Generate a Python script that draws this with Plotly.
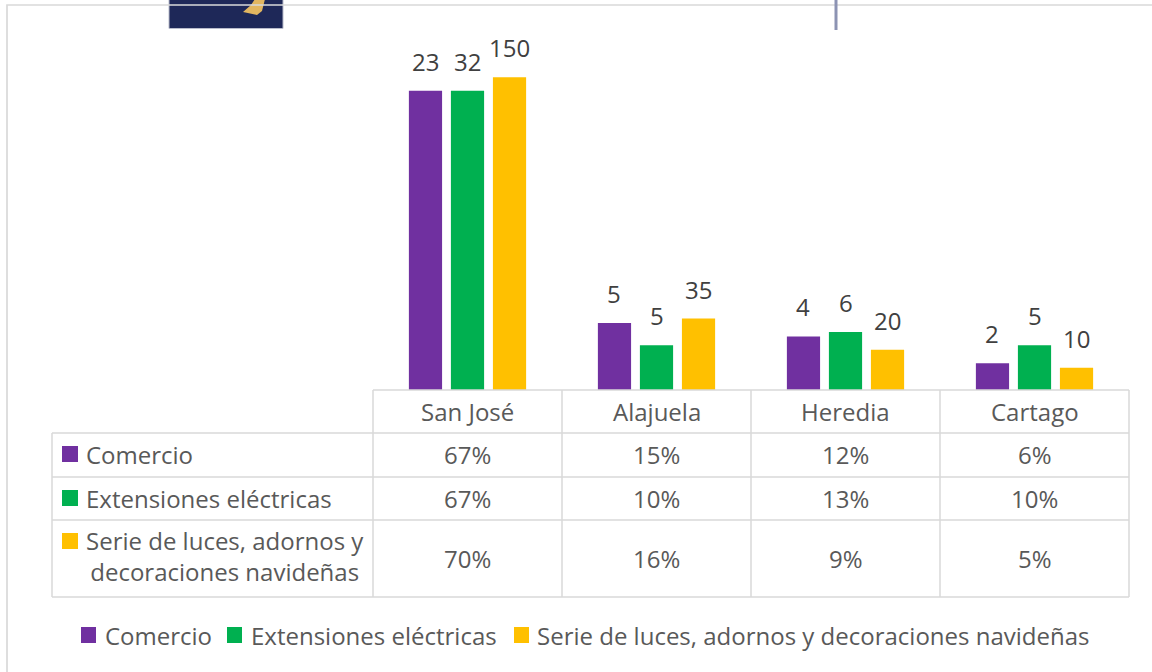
import plotly.graph_objects as go

# ---------------- data ----------------
categories = ["San José", "Alajuela", "Heredia", "Cartago"]
series_names = ["Comercio", "Extensiones eléctricas",
                "Serie de luces, adornos y decoraciones navideñas"]
row_labels = ["Comercio", "Extensiones eléctricas",
              "Serie de luces, adornos y<br>decoraciones navideñas"]
comercio_pct = [67, 15, 12, 6]
extensiones_pct = [67, 10, 13, 10]
serie_pct = [70, 16, 9, 5]
comercio_n = [23, 5, 4, 2]
extensiones_n = [32, 5, 6, 5]
serie_n = [150, 35, 20, 10]

pcts = [comercio_pct, extensiones_pct, serie_pct]
counts = [comercio_n, extensiones_n, serie_n]
colors = ["#7030A0", "#00B050", "#FFC000"]

# ---------------- geometry (pixels) ----------------
W, H = 1152, 672
PL, PR, PT, PB = 373, 1129, 55, 390
FONT = "Open Sans"
TXT = "#595959"
GRID = "#D9D9D9"
BARGAP = 0.333
BARGROUPGAP = 0.21


def px(x):
    return (x - PL) / (PR - PL)


def py(y):
    return (PB - y) / (PB - PT)


fig = go.Figure()
for name, vals, col in zip(series_names, pcts, colors):
    fig.add_trace(go.Bar(x=categories, y=vals, name=name, marker_color=col,
                         marker_line_width=0, showlegend=False,
                         hoverinfo="skip"))

annotations = []
shapes = []

# data labels (counts) above bars
slot = (1 - BARGAP) / 3
for j, (vals, ns) in enumerate(zip(pcts, counts)):
    for i, (v, n) in enumerate(zip(vals, ns)):
        annotations.append(dict(x=i + (j - 1) * slot, y=v, xref="x", yref="y",
                                text=str(n), showarrow=False, yanchor="bottom",
                                yshift=11,
                                font=dict(family=FONT, size=24, color="#404040")))

# ---------------- data table ----------------
row_tops = [390, 433, 477, 520, 597]
col_edges = [373, 562, 751, 940, 1129]
TL = 52


def line(x0, y0, x1, y1, color=GRID, width=1.5):
    shapes.append(dict(type="line", xref="paper", yref="paper",
                       x0=px(x0), y0=py(y0), x1=px(x1), y1=py(y1),
                       line=dict(color=color, width=width)))


line(PL, row_tops[0], PR, row_tops[0])
for y in row_tops[1:]:
    line(TL, y, PR, y)
for x in col_edges:
    line(x, row_tops[0], x, row_tops[-1])
line(TL, row_tops[1], TL, row_tops[-1])

# header row: category names
hdr_c = (row_tops[0] + row_tops[1]) / 2
for c in categories:
    annotations.append(dict(x=c, y=py(hdr_c), xref="x", yref="paper", text=c,
                            showarrow=False, yanchor="middle",
                            font=dict(family=FONT, size=24, color=TXT)))

# value rows
for r, vals in enumerate(pcts):
    yc = (row_tops[r + 1] + row_tops[r + 2]) / 2
    for c, v in zip(categories, vals):
        annotations.append(dict(x=c, y=py(yc), xref="x", yref="paper",
                                text=f"{v}%", showarrow=False, yanchor="middle",
                                font=dict(family=FONT, size=24, color=TXT)))

# row labels with colour keys
sq_centers = [454, 498, 541]
for r, (lab, col) in enumerate(zip(row_labels, colors)):
    yc = sq_centers[r]
    shapes.append(dict(type="rect", xref="paper", yref="paper",
                       x0=px(62), x1=px(78), y0=py(yc - 8), y1=py(yc + 8),
                       fillcolor=col, line=dict(width=0)))
    if r < 2:
        annotations.append(dict(x=px(84), y=py(yc), xref="paper", yref="paper",
                                text=lab, showarrow=False, xanchor="left",
                                yanchor="middle",
                                font=dict(family=FONT, size=24, color=TXT)))
    else:
        annotations.append(dict(x=px(84), y=py(yc - 19), xref="paper", yref="paper",
                                text=lab, showarrow=False, xanchor="left",
                                yanchor="top", align="center",
                                font=dict(family=FONT, size=24, color=TXT)))

# ---------------- bottom legend ----------------
leg_sq_x = [81, 227, 514]
leg_txt_x = [103, 249, 535]
LY = 635
for name, col, sx, tx in zip(series_names, colors, leg_sq_x, leg_txt_x):
    shapes.append(dict(type="rect", xref="paper", yref="paper",
                       x0=px(sx), x1=px(sx + 15), y0=py(LY - 8), y1=py(LY + 8),
                       fillcolor=col, line=dict(width=0)))
    annotations.append(dict(x=px(tx), y=py(LY), xref="paper", yref="paper",
                            text=name, showarrow=False, xanchor="left",
                            yanchor="middle",
                            font=dict(family=FONT, size=24, color=TXT)))

# ---------------- page decorations ----------------
shapes.append(dict(type="rect", xref="paper", yref="paper",
                   x0=px(169), x1=px(283), y0=py(-2), y1=py(28.5),
                   fillcolor="#1E2858", line=dict(color="#B9BCCB", width=1)))
shapes.append(dict(type="path", xref="paper", yref="paper",
                   path="M {} {} L {} {} L {} {} L {} {} L {} {} L {} {} Z".format(
                       px(243), py(12), px(251), py(5), px(255), py(-1),
                       px(265), py(-1), px(262), py(11), px(257), py(15)),
                   fillcolor="#E2B660", line=dict(width=0)))
shapes.append(dict(type="rect", xref="paper", yref="paper",
                   x0=px(7), x1=px(1165), y0=py(5), y1=py(690),
                   fillcolor="rgba(0,0,0,0)", line=dict(color=GRID, width=1.7)))
shapes.append(dict(type="line", xref="paper", yref="paper",
                   x0=px(836), x1=px(836), y0=py(-2), y1=py(30),
                   line=dict(color="#8C93B3", width=3)))

fig.update_layout(
    width=W, height=H,
    margin=dict(l=PL, r=W - PR, t=PT, b=H - PB, pad=0),
    paper_bgcolor="white", plot_bgcolor="white",
    barmode="group", bargap=BARGAP, bargroupgap=BARGROUPGAP,
    showlegend=False,
    xaxis=dict(range=[-0.5, 3.5], showticklabels=False, showgrid=False,
               zeroline=False, showline=False, ticks="", automargin=False,
               fixedrange=True),
    yaxis=dict(range=[0, 75], visible=False, showgrid=False, zeroline=False,
               automargin=False, fixedrange=True),
    annotations=annotations,
    shapes=shapes,
    font=dict(family=FONT, color=TXT),
)

fig.write_html("out.html",
               config={"displayModeBar": False, "staticPlot": True},
               post_script="document.body.style.margin='0';"
                           "document.body.style.overflow='hidden';")
